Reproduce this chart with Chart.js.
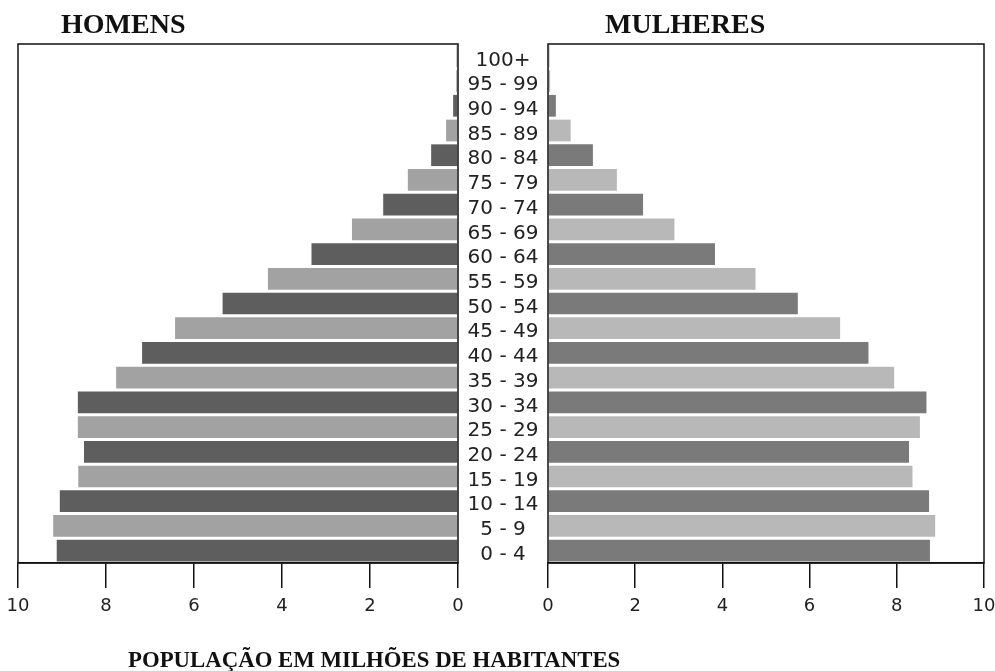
<!DOCTYPE html>
<html>
<head>
<meta charset="utf-8">
<script src="https://cdn.jsdelivr.net/npm/chart.js@4"></script>
<style>
	html, body { margin: 0; padding: 0; background: #fff; }
	#wrap { position: relative; width: 995px; height: 671px; overflow: hidden; }
	#wrap canvas { position: absolute; left: 0; top: 0; }
	.titulo { position: absolute; font-family: "Liberation Serif", "Times New Roman", serif; font-weight: bold; color: #111; white-space: nowrap; }
</style>
</head>
<body>
<div id="wrap">
	<canvas id="homens" width="995" height="671"></canvas>
	<canvas id="mulheres" width="995" height="671"></canvas>
	<div class="titulo" style="left:61px;top:10px;font-size:28px;line-height:28px;">HOMENS</div>
	<div class="titulo" style="left:605px;top:10px;font-size:28px;line-height:28px;">MULHERES</div>
	<div class="titulo" style="left:128px;top:648px;font-size:22.8px;line-height:23px;">POPULAÇÃO EM MILHÕES DE HABITANTES</div>
</div>
<script>
// faixas etarias, de baixo para cima
var faixas = ['0 - 4','5 - 9','10 - 14','15 - 19','20 - 24','25 - 29','30 - 34','35 - 39','40 - 44','45 - 49',
	'50 - 54','55 - 59','60 - 64','65 - 69','70 - 74','75 - 79','80 - 84','85 - 89','90 - 94','95 - 99','100+'];
// milhoes de habitantes
var homens = [9.12, 9.2, 9.05, 8.63, 8.5, 8.64, 8.64, 7.77, 7.18, 6.43, 5.35, 4.32, 3.33, 2.41, 1.7, 1.14, 0.61, 0.27, 0.11, 0.04, 0.03];
var mulheres = [8.76, 8.88, 8.74, 8.36, 8.28, 8.53, 8.68, 7.94, 7.35, 6.7, 5.73, 4.76, 3.83, 2.9, 2.18, 1.58, 1.03, 0.52, 0.18, 0.05, 0.03];
var escala = [0, 10, 2]; // min, max, passo

var fonte = '"DejaVu Sans", Verdana, sans-serif';
var corTexto = '#222';
var corLinha = '#111';

// moldura em volta da area do grafico
var moldura = {
	id: 'moldura',
	afterDraw: function(chart) {
		var a = chart.chartArea, ctx = chart.ctx;
		ctx.save();
		ctx.strokeStyle = corLinha;
		ctx.lineWidth = 1.5;
		ctx.strokeRect(a.left, a.top, a.right - a.left, a.bottom - a.top);
		ctx.restore();
	}
};

function cores(escura, clara) {
	return faixas.map(function(f, i) { return i % 2 === 0 ? escura : clara; });
}

function eixoX(inverter) {
	return {
		type: 'linear',
		reverse: inverter,
		min: escala[0],
		max: escala[1],
		ticks: { stepSize: escala[2], padding: 8, color: corTexto, font: { family: fonte, size: 18 } },
		grid: { drawOnChartArea: false, tickLength: 25, color: corLinha, lineWidth: 1.5 },
		border: { display: true, color: corLinha, width: 1.5 },
		afterFit: function(s) { s.height = 108; s.paddingLeft = 0; s.paddingRight = 0; }
	};
}

// centraliza os rotulos na coluna do meio (458..548)
var tamRotulo = 20;
var medida = document.createElement('canvas').getContext('2d');
medida.font = tamRotulo + 'px ' + fonte;
var larguraRotulo = medida.measureText('95 - 99').width;

new Chart(document.getElementById('homens'), {
	type: 'bar',
	data: {
		labels: faixas,
		datasets: [{ data: homens, backgroundColor: cores('#5e5e5e', '#a2a2a2'), barPercentage: 0.88, categoryPercentage: 1 }]
	},
	options: {
		responsive: false,
		animation: false,
		indexAxis: 'y',
		layout: { padding: { left: 18, right: 537, top: 44, bottom: 0 } },
		plugins: { legend: { display: false }, tooltip: { enabled: false } },
		scales: {
			x: eixoX(true),
			y: { reverse: true, display: false }
		}
	},
	plugins: [moldura]
});

new Chart(document.getElementById('mulheres'), {
	type: 'bar',
	data: {
		labels: faixas,
		datasets: [{ data: mulheres, backgroundColor: cores('#7a7a7a', '#b8b8b8'), barPercentage: 0.88, categoryPercentage: 1 }]
	},
	options: {
		responsive: false,
		animation: false,
		indexAxis: 'y',
		layout: { padding: { left: 458, right: 11, top: 44, bottom: 0 } },
		plugins: { legend: { display: false }, tooltip: { enabled: false } },
		scales: {
			x: eixoX(false),
			y: {
				reverse: true,
				grid: { display: false, drawTicks: false },
				border: { display: false },
				ticks: { crossAlign: 'center', padding: 45 - larguraRotulo / 2, labelOffset: 4, autoSkip: false, color: corTexto, font: { family: fonte, size: tamRotulo } },
				afterFit: function(s) { s.width = 90; }
			}
		}
	},
	plugins: [moldura]
});
</script>
</body>
</html>
